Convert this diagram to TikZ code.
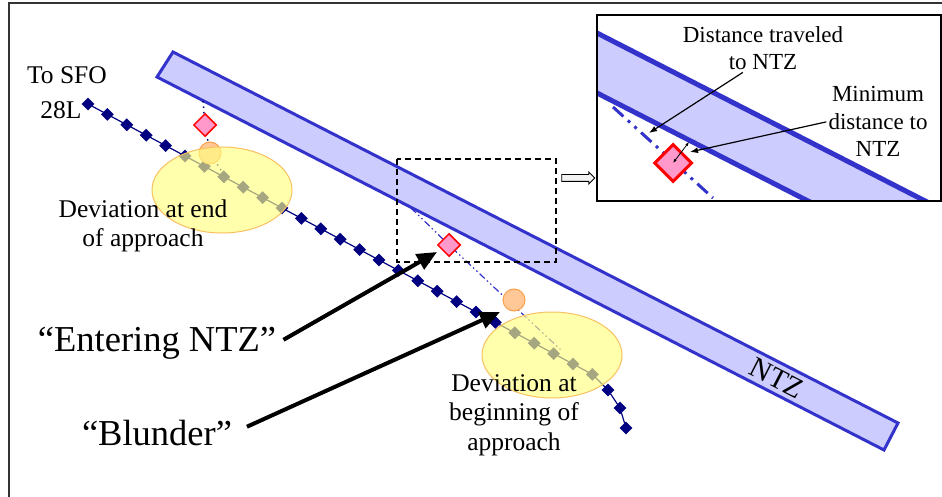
\documentclass[tikz,border=0pt]{standalone}
\usepackage{fontspec}
\setmainfont{Liberation Serif}
\usetikzlibrary{arrows.meta, shapes.geometric, shapes.arrows}

\definecolor{ntzfill}{HTML}{CCCCFF}
\definecolor{ntzline}{HTML}{3333CC}
\definecolor{trackblue}{HTML}{000080}
\definecolor{pinkfill}{HTML}{FF99CC}
\definecolor{orangefill}{HTML}{FFC896}
\definecolor{orangeline}{HTML}{F9A04A}
\definecolor{zonefill}{HTML}{FFFF80}
\definecolor{zoneline}{HTML}{F8C060}

\begin{document}
\begin{tikzpicture}[x=1pt, y=-1pt,
    ntzband/.style={draw=ntzline, fill=ntzfill, line width=3pt},
    trackline/.style={draw=trackblue, line width=1.2pt},
    trackpt/.style={diamond, fill=trackblue, inner sep=0pt, minimum size=13pt},
    blunderpt/.style={diamond, draw=red, fill=pinkfill, line width=1.5pt, inner sep=0pt, minimum size=23pt},
    entrypt/.style={circle, draw=orangeline, fill=orangefill, line width=1pt, inner sep=0pt, minimum size=22pt},
    devzone/.style={ellipse, draw=zoneline, fill=zonefill, fill opacity=0.65, line width=1pt, minimum width=140pt, minimum height=86pt},
    devpath/.style={draw=ntzline, line width=1.2pt, dash pattern=on 7pt off 3pt on 1.5pt off 3pt on 1.5pt off 3pt},
    dotpath/.style={draw=trackblue, line width=1.5pt, dash pattern=on 1.5pt off 4pt},
    bigarrow/.style={-{Triangle[length=20pt, width=17pt]}, line width=4pt},
    callout/.style={-{Latex[length=8pt, width=6pt]}, line width=1.2pt},
    lbl/.style={font=\fontsize{25.5}{29.5}\selectfont, align=center, inner sep=2pt},
    biglbl/.style={font=\fontsize{36.5}{40}\selectfont, inner sep=2pt},
    zoomlbl/.style={font=\fontsize{23}{27.5}\selectfont, align=center, inner sep=2pt},
]

\useasboundingbox (0,0) rectangle (942,497);
\draw[line width=1.5pt, black!80] (9,497) -- (9,3) -- (942,3);

% === NTZ BAND ===
\draw[ntzband] (173,52) -- (898,423) -- (884,450) -- (157,77) -- cycle;
\node[font=\fontsize{29}{30}\selectfont, rotate=-27.2] (ntzlbl) at (777,378) {NTZ};

% === APPROACH TRACK ===
\foreach \i in {0,...,26} {
    \node[trackpt] (tp\i) at ({88+19.4*\i},{104+10.4*\i}) {};
}
\node[trackpt] (tp27) at (608,390) {};
\node[trackpt] (tp28) at (620,408) {};
\node[trackpt] (tp29) at (626,428) {};
\draw[trackline] (tp0.center) -- (tp26.center) -- (tp27.center) -- (tp28.center) -- (tp29.center);

% === DEVIATIONS ===
\coordinate (barhit1) at (203,101);
\coordinate (blun1) at (205,125);
\coordinate (entry1) at (210,153);
\coordinate (trackhit1) at (226,178);
\draw[dotpath] (barhit1) -- (blun1) -- (entry1) -- (trackhit1);

\coordinate (barhit2) at (411,208);
\coordinate (blun2) at (449,245);
\coordinate (trackhit2) at (562,351);
\draw[devpath] (barhit2) -- (blun2) -- (trackhit2);

\node[blunderpt] (dia1) at (blun1) {};
\node[blunderpt] (dia2) at (blun2) {};
\node[entrypt] (circ1) at (entry1) {};
\node[entrypt] (circ2) at (514,300) {};

% deviation zones
\node[devzone] (zone1) at (222,190) {};
\node[devzone] (zone2) at (552,355) {};

% === LABELS ===
\node[lbl, anchor=base] (sfo) at (67,84) {To SFO};
\node[lbl, anchor=base] (rwy) at (61,119) {28L};
\node[lbl, anchor=base] (endlbl) at (143,247) {Deviation at end\\of approach};
\node[lbl, anchor=base] (beglbl) at (514,450) {Deviation at\\beginning of\\approach};
\node[biglbl, anchor=base] (enter) at (157,351) {“Entering NTZ”};
\node[biglbl, anchor=base] (blunder) at (157,445) {“Blunder”};

\coordinate (enterhit) at (437,252);
\coordinate (blunderhit) at (500,312);
\draw[bigarrow, shorten <=6pt] (enter.east) -- (enterhit);
\draw[bigarrow, shorten <=14pt] (blunder.east) -- (blunderhit);

% === ZOOM WINDOW ===
\draw[line width=1.2pt, dash pattern=on 6pt off 4pt] (397,159) rectangle (556,262);
\node[single arrow, draw=black, fill=gray!10, line width=0.8pt, minimum height=33pt, minimum width=11pt, inner sep=3pt, single arrow head extend=2.5pt] (zoomarrow) at (576.5,178) {};

\begin{scope}
    \clip (597,15) rectangle (941,201);
    \fill[ntzfill] (580,24.3) -- (1000,239.3) -- (1000,299.3) -- (580,84.3) -- cycle;
    \draw[ntzline, line width=5pt] (580,24.3) -- (1000,239.3);
    \draw[ntzline, line width=5pt] (580,84.3) -- (1000,299.3);
    \draw[devpath, line width=3pt, dash pattern=on 14pt off 6pt on 3pt off 6pt on 3pt off 6pt] (613,107) -- (713,198);
    \node[blunderpt, minimum size=38pt, line width=3pt] (zdia) at (673,163) {};
\end{scope}
\draw[line width=1.2pt] (597,15) rectangle (941,201);

\node[zoomlbl, anchor=base] (distlbl) at (763,70) {Distance traveled\\to NTZ};
\node[zoomlbl, anchor=base] (minlbl) at (878,157) {Minimum\\distance to\\NTZ};
\coordinate (disthit) at (649,133);
\coordinate (minhit) at (690,152);
\coordinate (edgept) at (689,142);
\draw[callout] (distlbl.230) -- (disthit);
\draw[callout] (minlbl.west) -- (minhit);
\draw[{Latex[length=4pt, width=3pt]}-{Latex[length=4pt, width=3pt]}, line width=0.8pt] (zdia.center) -- (edgept);

\end{tikzpicture}
\end{document}
